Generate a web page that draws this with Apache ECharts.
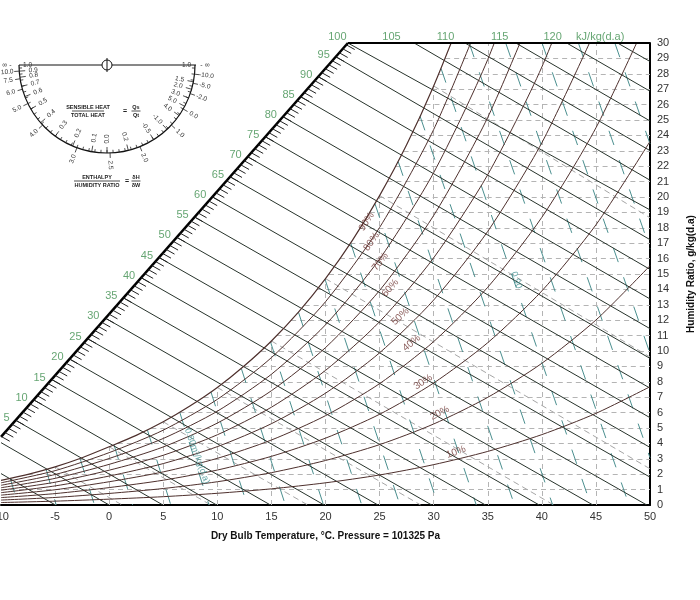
<!DOCTYPE html>
<html><head><meta charset="utf-8">
<script src="https://cdn.jsdelivr.net/npm/echarts@6/dist/echarts.min.js"></script>
<style>html,body{margin:0;padding:0;background:#fff}#c{width:700px;height:600px}</style>
</head><body><div id="c"></div>
<script>
// ---------------- DATA ----------------
// Relative humidity curves: humidity ratio g/kg at dry-bulb temperatures
const rhTemps = [-10,-5,0,5,10,15,20,25,30,35,40,45,50];
const rh10 = [0.16,0.25,0.38,0.54,0.76,1.05,1.44,1.95,2.62,3.48,4.57,5.95,7.68];
const rh20 = [0.32,0.49,0.75,1.07,1.51,2.10,2.89,3.92,5.26,6.99,9.20,12.01,15.54];
const rh30 = [0.48,0.74,1.13,1.61,2.27,3.16,4.34,5.89,7.92,10.54,13.90,18.19,23.61];
const rh40 = [0.64,0.99,1.51,2.15,3.03,4.22,5.80,7.88,10.61,14.14,18.68,24.49,31.89];
const rh50 = [0.80,1.24,1.88,2.69,3.79,5.28,7.26,9.88,13.31,17.77,23.52,30.91];
const rh60 = [0.96,1.48,2.26,3.23,4.56,6.35,8.74,11.90,16.05,21.45,28.44,37.47];
const rh70 = [1.12,1.73,2.64,3.77,5.32,7.42,10.22,13.93,18.80,25.17,33.44];
const rh80 = [1.28,1.98,3.02,4.32,6.09,8.49,11.70,15.97,21.58,28.93,38.51];
const rh90 = [1.44,2.23,3.40,4.86,6.86,9.57,13.20,18.02,24.38,32.73];
// saturation (100%) curve
const satTemps = [-10,-7.5,-5,-2.5,0,2.5,5,7.5,10,12.5,15,17.5,20,22.5,25,27.5,30,32.5];
const satW     = [1.60,1.99,2.48,3.07,3.78,4.52,5.40,6.44,7.63,9.04,10.65,12.52,14.70,17.20,20.09,23.39,27.21,31.57];

// Enthalpy lines kJ/kg(d.a): start [T,W] on the enthalpy scale / top edge, end [T,W]
const enthalpyValues = [-5,0,5,10,15,20,25,30,35,40,45,50,55,60,65,70,75,80,85,90,95,100,105,110,115,120,125];
const enthalpyStart = [[-10,2.04],[-10,4.05],[-8.64,5.50],[-6.98,6.83],[-5.32,8.15],[-3.66,9.48],[-2.00,10.80],[-0.34,12.13],[1.32,13.45],[2.96,14.76],[4.61,16.07],[6.25,17.38],[7.90,18.70],[9.54,20.01],[11.18,21.31],[12.81,22.61],[14.44,23.91],[16.07,25.21],[17.70,26.51],[19.33,27.81],[20.95,29.11],[22.07,30],[28.2,30],[32.9,30],[37.6,30],[42.3,30],[47.0,30]];
const enthalpyEnd = [[-4.97,0],[0,0],[4.97,0],[9.94,0],[14.91,0],[19.88,0],[24.85,0],[29.82,0],[34.79,0],[39.76,0],[44.73,0],[49.70,0],[50,1.81],[50,3.74],[50,5.67],[50,7.59],[50,9.52],[50,11.45],[50,13.38],[50,15.30],[50,17.23],[50,19.16],[50,21.09],[50,23.01],[50,24.94],[50,26.87],[50,28.80]];
// enthalpy scale (thick diagonal) end points
const enthalpyScaleStart = [-10,4.42];
const enthalpyScaleEnd = [22.07,30];
const topEnthalpyLabels = ['100','105','110','115','120'];
const topEnthalpyLabelT = [21.1,26.1,31.1,36.1,41.0];

// Specific volume lines m3/kg(d.a): start on saturation / top edge, end at bottom / right edge
const volumeValues = [0.75,0.76,0.77,0.78,0.79,0.80,0.81,0.82,0.83,0.84,0.85,0.86,0.87,0.88,0.89,0.90,0.91,0.92,0.93,0.94,0.95];
const volumeStart = [[-9.16,1.75],[-5.82,2.31],[-2.68,3.00],[0.45,3.90],[3.54,4.86],[6.53,6.01],[9.41,7.34],[12.22,8.86],[14.92,10.58],[17.50,12.52],[19.95,14.67],[22.33,17.00],[24.57,19.57],[26.72,22.30],[28.74,25.25],[30.68,28.35],[33.28,30],[36.66,30],[40.02,30],[43.38,30],[46.75,30]];
const volumeEnd = [[-8.4,0],[-4.9,0],[-1.36,0],[2.17,0],[5.70,0],[9.23,0],[12.76,0],[16.29,0],[19.82,0],[23.35,0],[26.88,0],[30.41,0],[33.94,0],[37.47,0],[41.00,0],[44.53,0],[48.06,0],[50,3.07],[50,9.85],[50,16.65],[50,23.45]];

// Wet-bulb lines (°C)
const wetBulbValues = [-5,0,5,10,15,20,25,30];
const wetBulbStart = [[-5,2.48],[0,3.78],[5,5.40],[10,7.63],[15,10.65],[20,14.70],[25,20.09],[30,27.21]];
const wetBulbEnd = [[1.2,0],[9.4,0],[18.36,0],[28.8,0],[41.1,0],[50,2.35],[50,9.61],[50,18.65]];

// Dashed grid: humidity ratio lines start at saturation; temperature lines end at saturation
const gridHumidity = [1,2,3,4,5,6,7,8,9,10,11,12,13,14,15,16,17,18,19,20,21,22,23,24,25,26,27,28,29];
const gridHumidityStartT = [-10,-7.53,-2.75,0.80,3.90,6.50,8.73,10.69,12.45,14.04,15.48,16.82,18.07,19.24,20.32,21.33,22.30,23.23,24.10,24.92,25.72,26.48,27.22,27.92,28.59,29.24,29.86,30.47,31.06];
const gridTemp = [-5,0,5,10,15,20,25,30,35,40,45];
const gridTempTopW = [2.48,3.78,5.40,7.63,10.65,14.70,20.09,27.21,30,30,30];

// In-chart labels
const rhLabelText = ['90%','80%','70%','60%','50%','40%','30%','20%','10%'];
const rhLabelPos = [[23.80,18.40],[24.26,17.10],[25.06,15.80],[25.99,14.09],[26.91,12.23],[27.96,10.52],[29.02,7.99],[30.57,5.97],[32.06,3.44]];
const rhLabelRot = [57,55,52,48,44,40,33,27,20];
const volumeLabelText = ['0.90','0.80m³/kg(d.a)'];
const volumeLabelPos = [[37.66,14.61],[8.13,3.18]];

// Protractor labels: [text, angle from left (deg)]
const protractorInner = [['0.9',4],['0.8',8],['0.7',14],['0.6',21],['0.5',30],['0.4',41],['0.3',54],['0.2',67],['0.1',80],['0.0',90],['0.2',104],['-0.5',122],['-1.0',133],['4.0',145],['5.0',152],['3.0',158],['2.0',164],['1.5',169]];
const protractorOuter = [['10.0',4],['7.5',9],['6.0',16],['5.0',26],['4.0',43],['3.0',70],['2.5',92],['2.0',112],['1.0',137],['0.0',150],['-2.0',161],['-5.0',168],['-10.0',174]];

// ---------------- CHART ----------------
const FONT = 'Liberation Sans, Arial, sans-serif';
const H_COLOR = '#27332b';
const RH_COLOR = '#4e302d';
const GREEN = '#3f8f4f';
const chart = echarts.init(document.getElementById('c'), null, {renderer:'canvas'});

const series = [];
series.push({
  type:'lines', coordinateSystem:'cartesian2d', silent:true, z:1,
  lineStyle:{color:'#b4b4b4', width:1, type:[5,4], opacity:1},
  data: gridHumidity.map((w,i)=>({coords:[[gridHumidityStartT[i],w],[50,w]]}))
    .concat(gridTemp.map((t,i)=>({coords:[[t,0],[t,gridTempTopW[i]]]})))
});
series.push({
  type:'lines', coordinateSystem:'cartesian2d', silent:true, z:2,
  lineStyle:{color:'#a6a6a6', width:1, type:[6,4], opacity:1},
  data: wetBulbValues.map((v,i)=>({coords:[wetBulbStart[i], wetBulbEnd[i]]}))
});
series.push({
  type:'lines', coordinateSystem:'cartesian2d', silent:true, z:2,
  lineStyle:{color:'#4b8f8f', width:1, type:[15,16], opacity:1},
  data: volumeValues.map((v,i)=>({coords:[volumeStart[i], volumeEnd[i]]}))
});
series.push({
  type:'lines', coordinateSystem:'cartesian2d', silent:true, z:3,
  lineStyle:{color:H_COLOR, width:1, opacity:1},
  data: enthalpyValues.map((v,i)=>({coords:[enthalpyStart[i], enthalpyEnd[i]]}))
});
const rhSets = [rh10,rh20,rh30,rh40,rh50,rh60,rh70,rh80,rh90];
rhSets.forEach(arr=>{
  series.push({type:'line', silent:true, z:3, showSymbol:false, smooth:0.25,
    lineStyle:{color:RH_COLOR, width:1}, data: arr.map((w,i)=>[rhTemps[i], w])});
});
series.push({type:'line', silent:true, z:3, showSymbol:false, smooth:0.25,
  lineStyle:{color:RH_COLOR, width:1.2}, data: satW.map((w,i)=>[satTemps[i], w])});
series.push({
  type:'lines', coordinateSystem:'cartesian2d', silent:true, z:5,
  lineStyle:{color:'#000', width:2.5, opacity:1},
  data:[{coords:[enthalpyScaleStart, enthalpyScaleEnd]}]
});
series.push({
  type:'lines', coordinateSystem:'cartesian2d', silent:true, z:5,
  lineStyle:{color:'#000', width:2, opacity:1},
  data:[{coords:[enthalpyScaleEnd,[50,30]]}]
});
const labeled = enthalpyValues.map((v,i)=>[v,i]).filter(d=>d[0]>=5 && d[0]<=95);
function diagT(h){
  let k = 0;
  for(let j=0;j<labeled.length-1;j++){ if(h>=labeled[j][0]) k=j; }
  const a = labeled[k], b = labeled[k+1];
  const ta = enthalpyStart[a[1]][0], tb = enthalpyStart[b[1]][0];
  return ta + (h-a[0])*(tb-ta)/(b[0]-a[0]);
}
function diagW(t){
  return enthalpyScaleStart[1] + (t-enthalpyScaleStart[0])*(enthalpyScaleEnd[1]-enthalpyScaleStart[1])/(enthalpyScaleEnd[0]-enthalpyScaleStart[0]);
}
const tickH = [];
for(let h=1; h<=98; h++) tickH.push(h);
series.push({
  type:'custom', coordinateSystem:'cartesian2d', silent:true, z:5,
  data: tickH.map(h=>[h,0]),
  renderItem:(params, api)=>{
    const h = api.value(0);
    const t = diagT(h);
    const p = api.coord([t, diagW(t)]);
    return {type:'line', shape:{x1:p[0], y1:p[1], x2:p[0]+8.4, y2:p[1]+4.7}, style:{stroke:'#222', lineWidth:1}};
  }
});
series.push({
  type:'scatter', silent:true, z:6, symbolSize:0, clip:false,
  data: labeled.map(d=>({value:enthalpyStart[d[1]], name:String(d[0])})),
  label:{show:true, position:'left', distance:6, offset:[0,-2], formatter:'{b}', color:GREEN, fontSize:11, fontFamily:FONT}
});
series.push({
  type:'scatter', silent:true, z:6, symbolSize:0, clip:false,
  data: topEnthalpyLabels.map((s,i)=>({value:[topEnthalpyLabelT[i],30], name:s})).concat([{value:[45.4,30], name:'kJ/kg(d.a)'}]),
  label:{show:true, position:'top', distance:1, formatter:'{b}', color:GREEN, fontSize:11, fontFamily:FONT}
});
series.push({
  type:'scatter', silent:true, z:6, symbolSize:0, clip:false,
  data: rhLabelText.map((s,i)=>({value:rhLabelPos[i], name:s, label:{rotate:rhLabelRot[i]}})),
  label:{show:true, position:'inside', formatter:'{b}', color:'#6e3532', fontSize:10, fontFamily:FONT}
});
series.push({
  type:'scatter', silent:true, z:6, symbolSize:0, clip:false,
  data: volumeLabelText.map((s,i)=>({value:volumeLabelPos[i], name:s, label:{rotate:-70}})),
  label:{show:true, position:'inside', formatter:'{b}', color:'#3d8f8f', fontSize:9, fontFamily:FONT}
});

// ---------------- protractor graphic ----------------
const PC = {x:107, y:65, r:88};
const g = [];
g.push({type:'line', shape:{x1:19,y1:PC.y,x2:196,y2:PC.y}, style:{stroke:'#111', lineWidth:1}});
g.push({type:'arc', shape:{cx:PC.x, cy:PC.y, r:PC.r, startAngle:0, endAngle:Math.PI, clockwise:true}, style:{stroke:'#111', lineWidth:1.2, fill:null}});
g.push({type:'circle', shape:{cx:PC.x, cy:PC.y, r:5}, style:{stroke:'#111', lineWidth:1, fill:'#fff'}});
g.push({type:'line', shape:{x1:PC.x,y1:PC.y-7,x2:PC.x,y2:PC.y+7}, style:{stroke:'#111', lineWidth:1}});
function polar(deg, r){ const a = deg*Math.PI/180; return [PC.x - r*Math.cos(a), PC.y + r*Math.sin(a)]; }
function rot(deg){ return (deg<=90 ? deg : deg-180)*Math.PI/180; }
for(let d=2; d<180; d+=4){
  const p1 = polar(d, PC.r), p2 = polar(d, PC.r-3);
  g.push({type:'line', shape:{x1:p1[0],y1:p1[1],x2:p2[0],y2:p2[1]}, style:{stroke:'#222', lineWidth:0.8}});
}
protractorInner.forEach(([t,d])=>{
  const p1 = polar(d, PC.r), p2 = polar(d, PC.r-6), p = polar(d, PC.r-14);
  g.push({type:'line', shape:{x1:p1[0],y1:p1[1],x2:p2[0],y2:p2[1]}, style:{stroke:'#222', lineWidth:0.8}});
  g.push({type:'text', x:p[0], y:p[1], rotation:rot(d), style:{text:t, font:'6.5px '+FONT, fill:'#333', align:'center', verticalAlign:'middle'}});
});
protractorOuter.forEach(([t,d])=>{
  const p1 = polar(d, PC.r), p2 = polar(d, PC.r+5), p = polar(d, PC.r+12);
  g.push({type:'line', shape:{x1:p1[0],y1:p1[1],x2:p2[0],y2:p2[1]}, style:{stroke:'#222', lineWidth:0.8}});
  g.push({type:'text', x:p[0], y:p[1], rotation:rot(d), style:{text:t, font:'6.5px '+FONT, fill:'#333', align:'center', verticalAlign:'middle'}});
});
g.push({type:'text', x:7, y:PC.y, style:{text:'∞ -', font:'7px '+FONT, fill:'#333', align:'center', verticalAlign:'middle'}});
g.push({type:'text', x:205, y:PC.y, style:{text:'- ∞', font:'7px '+FONT, fill:'#333', align:'center', verticalAlign:'middle'}});
g.push({type:'text', x:PC.x-84, y:PC.y, style:{text:'1.0', font:'6.5px '+FONT, fill:'#333', align:'left', verticalAlign:'middle'}});
g.push({type:'text', x:PC.x+84, y:PC.y, style:{text:'1.0', font:'6.5px '+FONT, fill:'#333', align:'right', verticalAlign:'middle'}});
function frac(x, y, top, bot, w, fs){
  g.push({type:'text', x:x, y:y-4, style:{text:top, font:'bold '+fs+'px '+FONT, fill:'#222', align:'center', verticalAlign:'middle'}});
  g.push({type:'text', x:x, y:y+4.5, style:{text:bot, font:'bold '+fs+'px '+FONT, fill:'#222', align:'center', verticalAlign:'middle'}});
  g.push({type:'line', shape:{x1:x-w/2, y1:y, x2:x+w/2, y2:y}, style:{stroke:'#222', lineWidth:0.8}});
}
frac(88,111,'SENSIBLE HEAT','TOTAL HEAT',32,5.5);
g.push({type:'text', x:125, y:111, style:{text:'=', font:'bold 7px '+FONT, fill:'#222', align:'center', verticalAlign:'middle'}});
frac(136,111,'Qs','Qt',9,5.5);
frac(97,181,'ENTHALPY','HUMIDITY RATIO',46,5.5);
g.push({type:'text', x:127, y:181, style:{text:'=', font:'bold 7px '+FONT, fill:'#222', align:'center', verticalAlign:'middle'}});
frac(136,181,'δH','δW',9,5.5);

chart.setOption({
  animation:false,
  backgroundColor:'#fff',
  grid:{left:1, right:50, top:43, bottom:95, containLabel:false, outerBoundsMode:'none'},
  xAxis:{type:'value', min:-10, max:50, interval:5,
    axisLine:{show:true, onZero:false, lineStyle:{color:'#000', width:2}},
    axisTick:{show:false}, splitLine:{show:false},
    axisLabel:{color:'#333', fontSize:11, fontFamily:FONT, margin:6, hideOverlap:false},
    name:'Dry Bulb Temperature, °C. Pressure = 101325 Pa', nameLocation:'middle', nameGap:26,
    nameTextStyle:{fontWeight:'bold', fontSize:10, color:'#111', fontFamily:FONT}},
  yAxis:{type:'value', position:'right', min:0, max:30, interval:1,
    axisLine:{show:true, onZero:false, lineStyle:{color:'#000', width:2}},
    axisTick:{show:false}, splitLine:{show:false},
    axisLabel:{color:'#333', fontSize:11, fontFamily:FONT, margin:7},
    name:'Humidity Ratio, g/kg(d.a)', nameLocation:'middle', nameGap:36, nameRotate:90,
    nameTextStyle:{fontWeight:'bold', fontSize:10, color:'#111', fontFamily:FONT}},
  graphic:g,
  series:series
});
</script>
</body></html>
